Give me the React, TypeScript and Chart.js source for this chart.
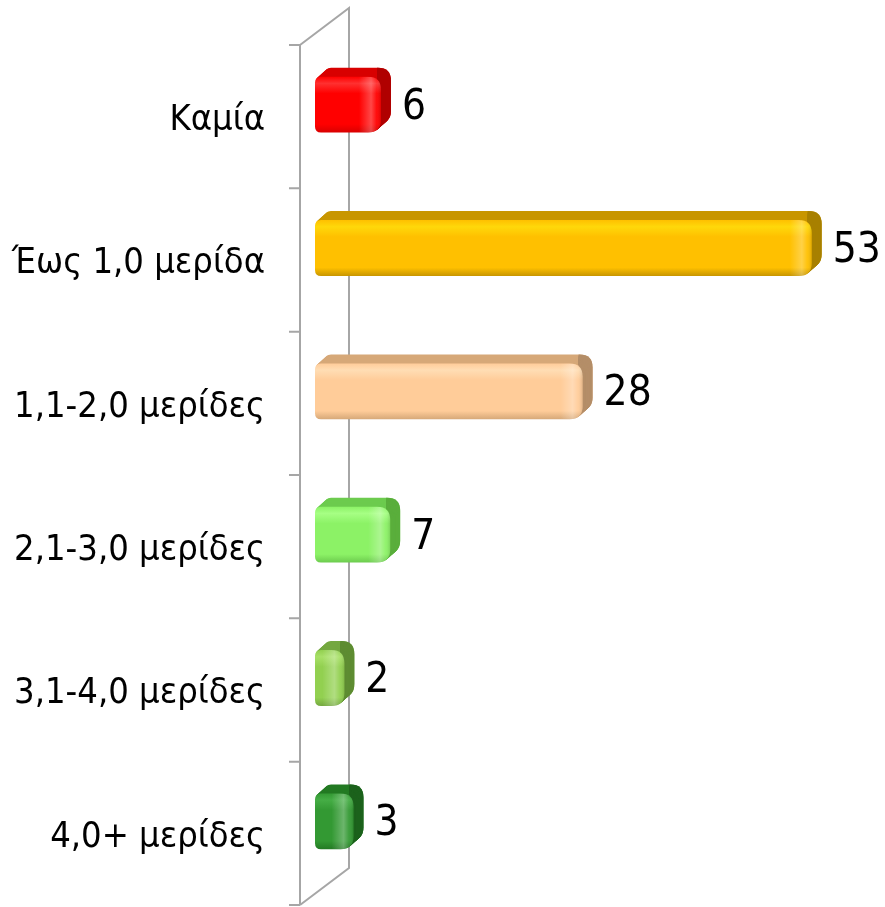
import React, { useEffect, useRef } from "react";
import { Chart, registerables } from "chart.js";

Chart.register(...registerables);

const categories = [
  "Καμία",
  "Έως 1,0 μερίδα",
  "1,1-2,0 μερίδες",
  "2,1-3,0 μερίδες",
  "3,1-4,0 μερίδες",
  "4,0+ μερίδες",
];
const values = [6, 53, 28, 7, 2, 3];
const frontColors = ["#FF0000", "#FFC000", "#FFCC99", "#8CF266", "#92D050", "#339933"];
const lightColors = ["#FF3030", "#FFD80A", "#FFDDB4", "#A6FF84", "#A8E068", "#45AD45"];
const topColors = ["#D80000", "#C89600", "#D6A878", "#6CCB4E", "#74A840", "#237A23"];
const sideColors = ["#B00000", "#A88000", "#B48E68", "#5AAE3C", "#5E8C32", "#1C621C"];

const FONT = '"DejaVu Sans Condensed", "DejaVu Sans", sans-serif';

function roundedPath(ctx: CanvasRenderingContext2D, l: number, t: number, r: number, b: number, rl: number, rr: number) {
  const w = r - l;
  const rrr = Math.min(rr, w / 2, (b - t) / 2);
  const rll = Math.min(rl, w / 2, (b - t) / 2);
  ctx.beginPath();
  ctx.moveTo(l + rll, t);
  ctx.lineTo(r - rrr, t);
  ctx.quadraticCurveTo(r, t, r, t + rrr);
  ctx.lineTo(r, b - rrr);
  ctx.quadraticCurveTo(r, b, r - rrr, b);
  ctx.lineTo(l + rll, b);
  ctx.quadraticCurveTo(l, b, l, b - rll);
  ctx.lineTo(l, t + rll);
  ctx.quadraticCurveTo(l, t, l + rll, t);
  ctx.closePath();
}

const wallPlugin = {
  id: "wall3d",
  beforeDatasetsDraw(chart: any) {
    const ctx: CanvasRenderingContext2D = chart.ctx;
    const a = chart.chartArea;
    const ys = chart.scales.y;
    const fx = a.left - 26;
    const bx = a.left + 23;
    const depth = 37;
    ctx.save();
    ctx.strokeStyle = "#A6A6A6";
    ctx.lineWidth = 2;
    ctx.beginPath();
    ctx.moveTo(fx, a.top);
    ctx.lineTo(fx, a.bottom);
    ctx.moveTo(fx, a.top);
    ctx.lineTo(bx, a.top - depth);
    ctx.lineTo(bx, a.bottom - depth);
    ctx.lineTo(fx, a.bottom);
    for (let i = 0; i <= categories.length; i++) {
      const yy = ys.getPixelForValue(i - 0.5);
      ctx.moveTo(fx - 11, yy);
      ctx.lineTo(fx, yy);
    }
    ctx.stroke();
    ctx.restore();
  },
  afterDatasetsDraw(chart: any) {
    const ctx: CanvasRenderingContext2D = chart.ctx;
    const meta = chart.getDatasetMeta(0);
    meta.data.forEach((el: any, i: number) => {
      const p = el.getProps(["x", "y", "base", "height"], true);
      const L = p.base - 11;
      const R = p.x;
      const T = p.y - 12 - p.height / 2;
      const B = T + p.height;
      const dx = 10;
      const dy = -9;
      const rl = 6;
      const rr = 13;
      const steps = 12;
      ctx.save();
      for (let s = steps; s >= 1; s--) {
        const ox = (dx * s) / steps;
        const oy = (dy * s) / steps;
        roundedPath(ctx, L + ox, T + oy, R + ox, B + oy, rl, rr);
        ctx.fillStyle = topColors[i];
        ctx.fill();
      }
      ctx.save();
      ctx.beginPath();
      ctx.rect(R - 4, 0, 2000, 2000);
      ctx.clip();
      for (let s = steps; s >= 1; s--) {
        const ox = (dx * s) / steps;
        const oy = (dy * s) / steps;
        roundedPath(ctx, L + ox, T + oy, R + ox, B + oy, rl, rr);
        ctx.fillStyle = sideColors[i];
        ctx.fill();
      }
      ctx.restore();
      const g = ctx.createLinearGradient(0, T, 0, B);
      g.addColorStop(0, frontColors[i]);
      g.addColorStop(0.12, lightColors[i]);
      g.addColorStop(0.3, frontColors[i]);
      g.addColorStop(0.85, frontColors[i]);
      g.addColorStop(1, topColors[i]);
      roundedPath(ctx, L, T, R, B, rl, rr);
      ctx.fillStyle = g;
      ctx.fill();
      ctx.save();
      roundedPath(ctx, L, T, R, B, rl, rr);
      ctx.clip();
      const hx = ctx.createLinearGradient(R - 22, 0, R, 0);
      hx.addColorStop(0, "rgba(255,255,255,0)");
      hx.addColorStop(0.55, "rgba(255,255,255,0.28)");
      hx.addColorStop(0.8, "rgba(255,255,255,0.05)");
      hx.addColorStop(1, "rgba(0,0,0,0.12)");
      ctx.fillStyle = hx;
      ctx.fillRect(R - 22, T, 22, B - T);
      ctx.restore();
      ctx.fillStyle = "#000000";
      ctx.font = `42px ${FONT}`;
      ctx.textAlign = "left";
      ctx.textBaseline = "middle";
      ctx.fillText(String(values[i]), R + 21, (T + B) / 2 + 3);
      ctx.restore();
    });
  },
};

export default function App() {
  const ref = useRef<HTMLCanvasElement | null>(null);
  useEffect(() => {
    document.body.style.margin = "0";
    const canvas = ref.current;
    if (!canvas) return;
    const chart = new Chart(canvas, {
      type: "bar",
      data: {
        labels: categories,
        datasets: [
          {
            data: values,
            backgroundColor: "rgba(0,0,0,0)",
            borderWidth: 0,
            barPercentage: 0.39,
            categoryPercentage: 1,
          },
        ],
      },
      options: {
        indexAxis: "y",
        responsive: false,
        animation: false,
        devicePixelRatio: 1,
        layout: { padding: { top: 45, bottom: 2, left: 0, right: 0 } },
        plugins: { legend: { display: false }, tooltip: { enabled: false } },
        scales: {
          x: { display: false, min: 0, max: 61 },
          y: {
            position: "left",
            afterFit: (scale: any) => {
              scale.width = 326;
              scale.paddingTop = 0;
              scale.paddingBottom = 0;
            },
            grid: { display: false, drawTicks: false },
            border: { display: false },
            ticks: {
              padding: 61,
              labelOffset: 4,
              color: "#000000",
              font: { family: FONT, size: 36 },
            },
          },
        },
      },
      plugins: [wallPlugin],
    });
    return () => chart.destroy();
  }, []);
  return (
    <div style={{ width: 885, height: 907 }}>
      <canvas ref={ref} width={885} height={907} style={{ display: "block" }} />
    </div>
  );
}
